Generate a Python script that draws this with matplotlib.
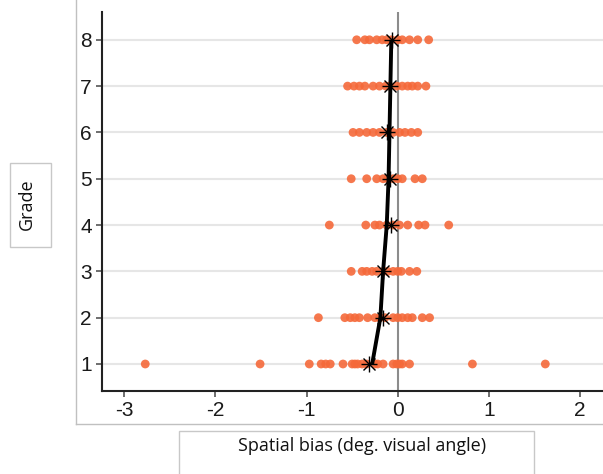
import numpy as np
import matplotlib
matplotlib.use("Agg")
import matplotlib.pyplot as plt
from matplotlib.patches import Rectangle
from matplotlib.lines import Line2D

# =============================================================================
#  Data: individual spatial bias per grade, grade means and fitted trend
# =============================================================================
grades = [1, 2, 3, 4, 5, 6, 7, 8]

bias_g1 = [-2.77, -1.51, -0.97, -0.84, -0.79, -0.74, -0.60, -0.50, -0.47, -0.44,
           -0.39, -0.34, -0.25, -0.22, -0.16, -0.05, -0.01, 0.02, 0.05, 0.13,
           0.82, 1.62]
bias_g2 = [-0.87, -0.58, -0.52, -0.47, -0.42, -0.33, -0.25, -0.20, -0.14, -0.05,
           0.00, 0.05, 0.11, 0.16, 0.27, 0.35]
bias_g3 = [-0.51, -0.39, -0.34, -0.28, -0.23, -0.16, -0.11, -0.05, 0.00, 0.04,
           0.13, 0.21]
bias_g4 = [-0.75, -0.35, -0.25, -0.20, -0.12, -0.05, 0.02, 0.11, 0.23, 0.30, 0.56]
bias_g5 = [-0.51, -0.34, -0.23, -0.16, -0.11, -0.05, 0.00, 0.05, 0.19, 0.27]
bias_g6 = [-0.49, -0.42, -0.34, -0.27, -0.20, -0.12, -0.05, 0.02, 0.08, 0.15, 0.22]
bias_g7 = [-0.55, -0.48, -0.42, -0.36, -0.27, -0.20, -0.13, -0.09, -0.01, 0.05,
           0.11, 0.16, 0.22, 0.31]
bias_g8 = [-0.45, -0.36, -0.31, -0.23, -0.17, -0.12, -0.07, 0.00, 0.05, 0.13,
           0.22, 0.34]

all_bias = [bias_g1, bias_g2, bias_g3, bias_g4, bias_g5, bias_g6, bias_g7, bias_g8]

# grade means (asterisks)
mean_bias = [-0.31, -0.16, -0.16, -0.07, -0.08, -0.12, -0.085, -0.066]
# fitted developmental trend (black curve)
fit_bias = [-0.28, -0.19, -0.16, -0.12, -0.10, -0.09, -0.08, -0.07]

x_ticks = [-3, -2, -1, 0, 1, 2]

# =============================================================================
#  Figure
# =============================================================================
W, H = 603, 474
fig = plt.figure(figsize=(W / 100, H / 100), dpi=100)
ax = fig.add_axes([101.7 / W, 83 / H, 1 - 101.7 / W, (391 - 12) / H])

# grid lines for each grade and vertical zero line
for g in grades:
    ax.axhline(g, color="#e6e6e6", lw=1.5, zorder=0)
ax.axvline(0, color="#8c8c8c", lw=1.5, zorder=1)

dot_color = "#f5693a"
for g, vals in zip(grades, all_bias):
    ax.scatter(vals, [g] * len(vals), s=40, color=dot_color, edgecolors="none",
               alpha=0.9, zorder=2)

ax.plot(fit_bias, grades, color="black", lw=2.8, zorder=3,
        solid_capstyle="butt", solid_joinstyle="round")
ax.plot(mean_bias, grades, linestyle="none", marker="+", markersize=12,
        markeredgewidth=1.0, color="black", zorder=4)
ax.plot(mean_bias, grades, linestyle="none", marker="x", markersize=8.5,
        markeredgewidth=1.0, color="black", zorder=4)

ax.set_xlim(-3.248, 2.253)
ax.set_ylim(0.417, 8.6)
ax.set_xticks(x_ticks)
ax.set_xticklabels([str(t) for t in x_ticks])
ax.set_yticks(grades)

for side in ["top", "right"]:
    ax.spines[side].set_visible(False)
for side in ["left", "bottom"]:
    ax.spines[side].set_color("#222222")
    ax.spines[side].set_linewidth(1.5)

ax.tick_params(axis="both", length=4, width=1.2, color="#555555",
               labelsize=15, labelcolor="#1a1a1a", pad=3)
for lab in ax.get_xticklabels() + ax.get_yticklabels():
    lab.set_fontfamily("Liberation Sans")

# =============================================================================
#  Outer frame lines and label boxes
# =============================================================================
frame_col = "#c0c0c0"
fig.add_artist(Line2D([76 / W, 76 / W], [1, (H - 424) / H], color=frame_col,
                      lw=1.0, transform=fig.transFigure))
fig.add_artist(Line2D([76 / W, 1], [(H - 424) / H, (H - 424) / H],
                      color=frame_col, lw=1.0, transform=fig.transFigure))

box_col = "#c8c8c8"
fig.add_artist(Rectangle((10 / W, (H - 247) / H), 41 / W, 84 / H,
                         transform=fig.transFigure, fill=False,
                         edgecolor=box_col, lw=1.0))
fig.text(27 / W, (H - 204) / H, "Grade", rotation=90, ha="center", va="center",
         fontsize=13, family="Open Sans", color="#111111")

fig.add_artist(Rectangle((179 / W, -0.01), (534 - 179) / W, (H - 431) / H + 0.01,
                         transform=fig.transFigure, fill=False,
                         edgecolor=box_col, lw=1.0))
fig.text(362 / W, (H - 446) / H, "Spatial bias (deg. visual angle)",
         ha="center", va="center", fontsize=13, family="Open Sans",
         color="#111111")

fig.savefig("out.png", dpi=100)
